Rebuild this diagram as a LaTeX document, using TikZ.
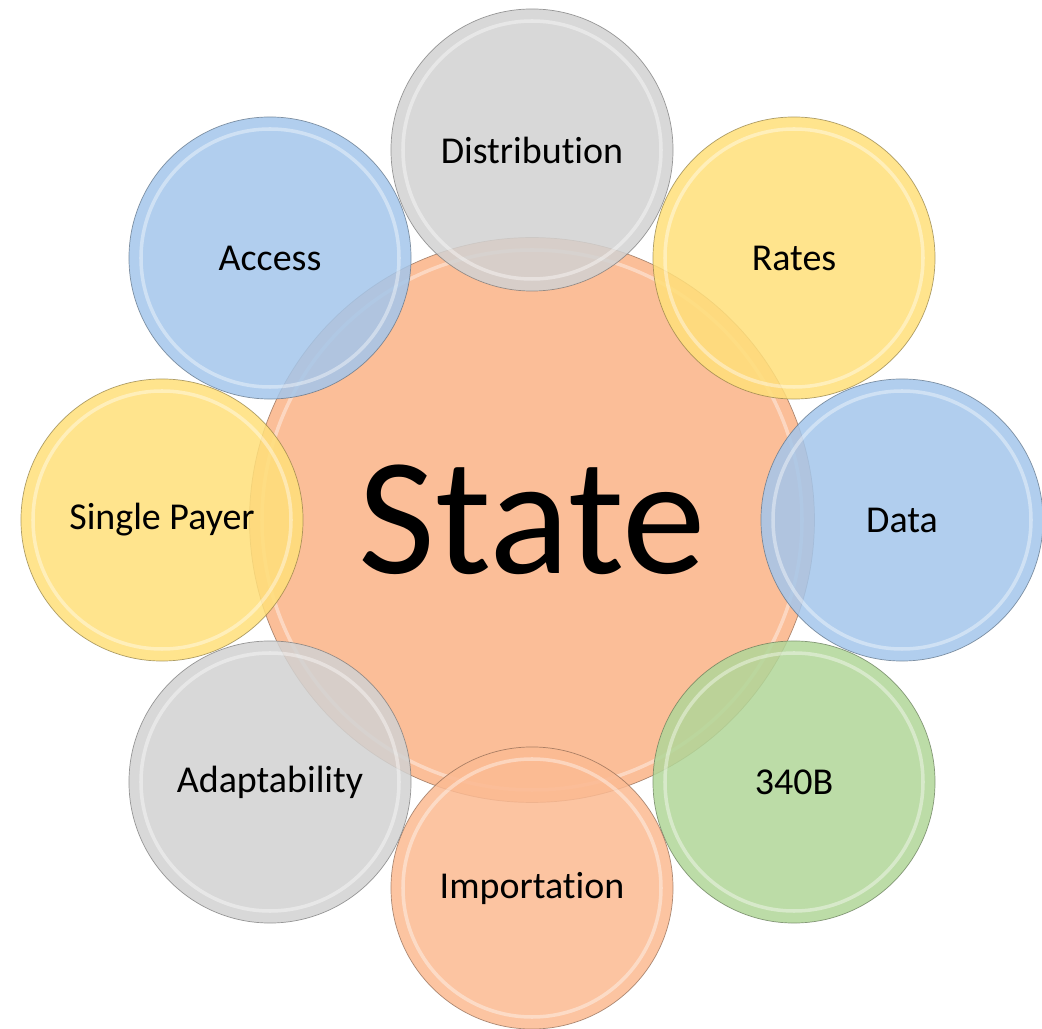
\documentclass[tikz,border=0pt]{standalone}
\usepackage{fontspec}
\setmainfont{Carlito}[Ligatures=NoCommon]
\usetikzlibrary{positioning}
\definecolor{bubgray}{HTML}{D2D2D2}
\definecolor{bubyellow}{HTML}{FFDF7A}
\definecolor{bubblue}{HTML}{A4C6EB}
\definecolor{bubgreen}{HTML}{B1D698}
\definecolor{buborange}{HTML}{FBBA92}
\begin{document}
\begin{tikzpicture}[x=0.025cm,y=-0.025cm,
    bub/.style={circle,inner sep=0pt,minimum size=7.05cm,draw=#1!55!black,line width=0.5pt,
      fill=#1,fill opacity=0.86,draw opacity=0.7,text opacity=1,
      font=\fontsize{27}{32}\selectfont},
    gloss/.style={draw=white,line width=2.5pt,opacity=0.4}]
 \useasboundingbox (0,0) rectangle (1042,1029);
 \node[bub=buborange,minimum size=14.12cm,fill opacity=0.95,
   font=\fontsize{119}{130}\selectfont] (State) at (532,520) {State};
 \draw[gloss] (State.center) circle (270);
 \foreach \N/\C/\X/\Y/\T in {Dist/bubgray/532/150/Distribution,
     Rates/bubyellow/794/258/Rates, Data/bubblue/902/520/Data,
     BFourty/bubgreen/794/782/340B, Import/buborange/532/888/Importation,
     Adapt/bubgray/270/782/Adaptability, Single/bubyellow/162/520/Single Payer,
     Access/bubblue/270/258/Access}
  {\node[bub=\C] (\N) at (\X,\Y) {\T};
   \draw[gloss] (\N.center) circle (129);}
\end{tikzpicture}
\end{document}
